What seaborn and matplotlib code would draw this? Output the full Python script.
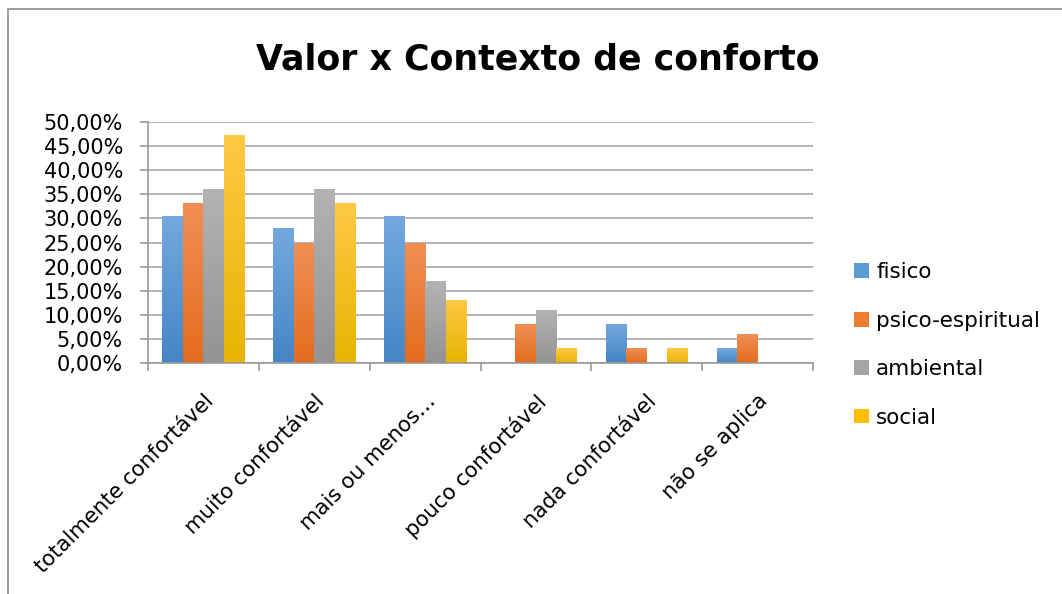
import numpy as np
import pandas as pd
import seaborn as sns
import matplotlib
matplotlib.use("Agg")
import matplotlib.pyplot as plt
from matplotlib.colors import LinearSegmentedColormap
from matplotlib.patches import Patch, Rectangle
from matplotlib.ticker import FuncFormatter, MultipleLocator, FixedLocator

categories = ["totalmente confortável", "muito confortável", "mais ou menos…",
              "pouco confortável", "nada confortável", "não se aplica"]
series = ["fisico", "psico-espiritual", "ambiental", "social"]
fisico = [30.6, 28.1, 30.6, 0.0, 8.1, 3.1]
psico_espiritual = [33.1, 25.0, 25.0, 8.1, 3.1, 6.0]
ambiental = [36.1, 36.1, 17.0, 11.0, 0.0, 0.0]
social = [47.2, 33.1, 13.1, 3.1, 3.1, 0.0]
title = "Valor x Contexto de conforto"

values = [fisico, psico_espiritual, ambiental, social]
df = pd.DataFrame({
    "categoria": [c for s in series for c in categories],
    "serie": [s for s in series for _ in categories],
    "valor": [v for vals in values for v in vals],
})

colors = ["#5B9BD5", "#ED7D31", "#A5A5A5", "#FFC000"]
grads = [("#74A9DE", "#4485C6"), ("#F08F55", "#E46C1E"),
         ("#B3B3B3", "#939393"), ("#FFC845", "#E8B400")]

sns.set_theme(style="white")
plt.rcParams["font.family"] = ["DejaVu Sans"]
plt.rcParams["text.color"] = "black"

fig = plt.figure(figsize=(10.62, 5.94), dpi=100)
ax = fig.add_axes([148/1062, 1-363/594, (813-148)/1062, (363-122)/594])

sns.barplot(data=df, x="categoria", y="valor", hue="serie", order=categories,
            hue_order=series, palette=colors, width=0.74, gap=0, ax=ax,
            legend=False, saturation=1, edgecolor="none", linewidth=0)

# gradient fill of bars
n_cat = len(categories)
for i, patch in enumerate(list(ax.patches)):
    s = i // n_cat
    x0, y0 = patch.get_x(), patch.get_y()
    w, h = patch.get_width(), patch.get_height()
    if h <= 0:
        continue
    cmap = LinearSegmentedColormap.from_list("g", [grads[s][1], grads[s][0]])
    grad = np.linspace(0, 1, 100).reshape(-1, 1)
    im = ax.imshow(grad, cmap=cmap, aspect="auto", origin="lower",
                   extent=[x0, x0 + w, y0, y0 + h], zorder=2)
    im.set_clip_path(patch)
    patch.set_facecolor("none")

ax.set_xlim(-0.5, n_cat - 0.5)
ax.set_ylim(0, 50)
ax.yaxis.set_major_locator(MultipleLocator(5))
ax.yaxis.set_major_formatter(FuncFormatter(lambda v, p: f"{v:.2f}%".replace(".", ",")))
ax.grid(axis="y", color="#A8A8A8", linewidth=1.2, zorder=0)
ax.set_axisbelow(True)
ax.set_xlabel("")
ax.set_ylabel("")

for side in ["top", "right"]:
    ax.spines[side].set_visible(False)
for side in ["left", "bottom"]:
    ax.spines[side].set_color("#9A9A9A")
    ax.spines[side].set_linewidth(1.2)

ax.tick_params(axis="y", which="major", left=True, length=6, width=1.2,
               color="#9A9A9A", labelsize=15, labelcolor="black", pad=12)
ax.xaxis.set_minor_locator(FixedLocator(np.arange(-0.5, n_cat, 1.0)))
ax.tick_params(axis="x", which="minor", bottom=True, length=6, width=1.2,
               color="#9A9A9A")
ax.tick_params(axis="x", which="major", bottom=False, length=0,
               labelsize=15.3, labelcolor="black", pad=20)
ax.set_xticks(range(n_cat))
ax.set_xticklabels(categories, rotation=45, ha="right", rotation_mode="anchor")

fig.text(538/1062, 1-60/594, title, ha="center", va="center",
         fontsize=25, fontweight="bold", color="black")

handles = [Patch(facecolor=c, edgecolor="none", label=s) for c, s in zip(colors, series)]
fig.legend(handles=handles, loc="center left", bbox_to_anchor=(854/1062, 1-345/594),
           frameon=False, fontsize=15.5, handlelength=0.68, handleheight=0.68,
           handletextpad=0.35, labelspacing=1.32, borderpad=0, borderaxespad=0,
           labelcolor="black")

# outer chart border (left and top visible)
fig.add_artist(Rectangle((8/1062, -0.1), 1.2, (594-9)/594 + 0.1,
                         transform=fig.transFigure, fill=False,
                         edgecolor="#8C8C8C", linewidth=1.2))

fig.savefig("out.png", dpi=100)
